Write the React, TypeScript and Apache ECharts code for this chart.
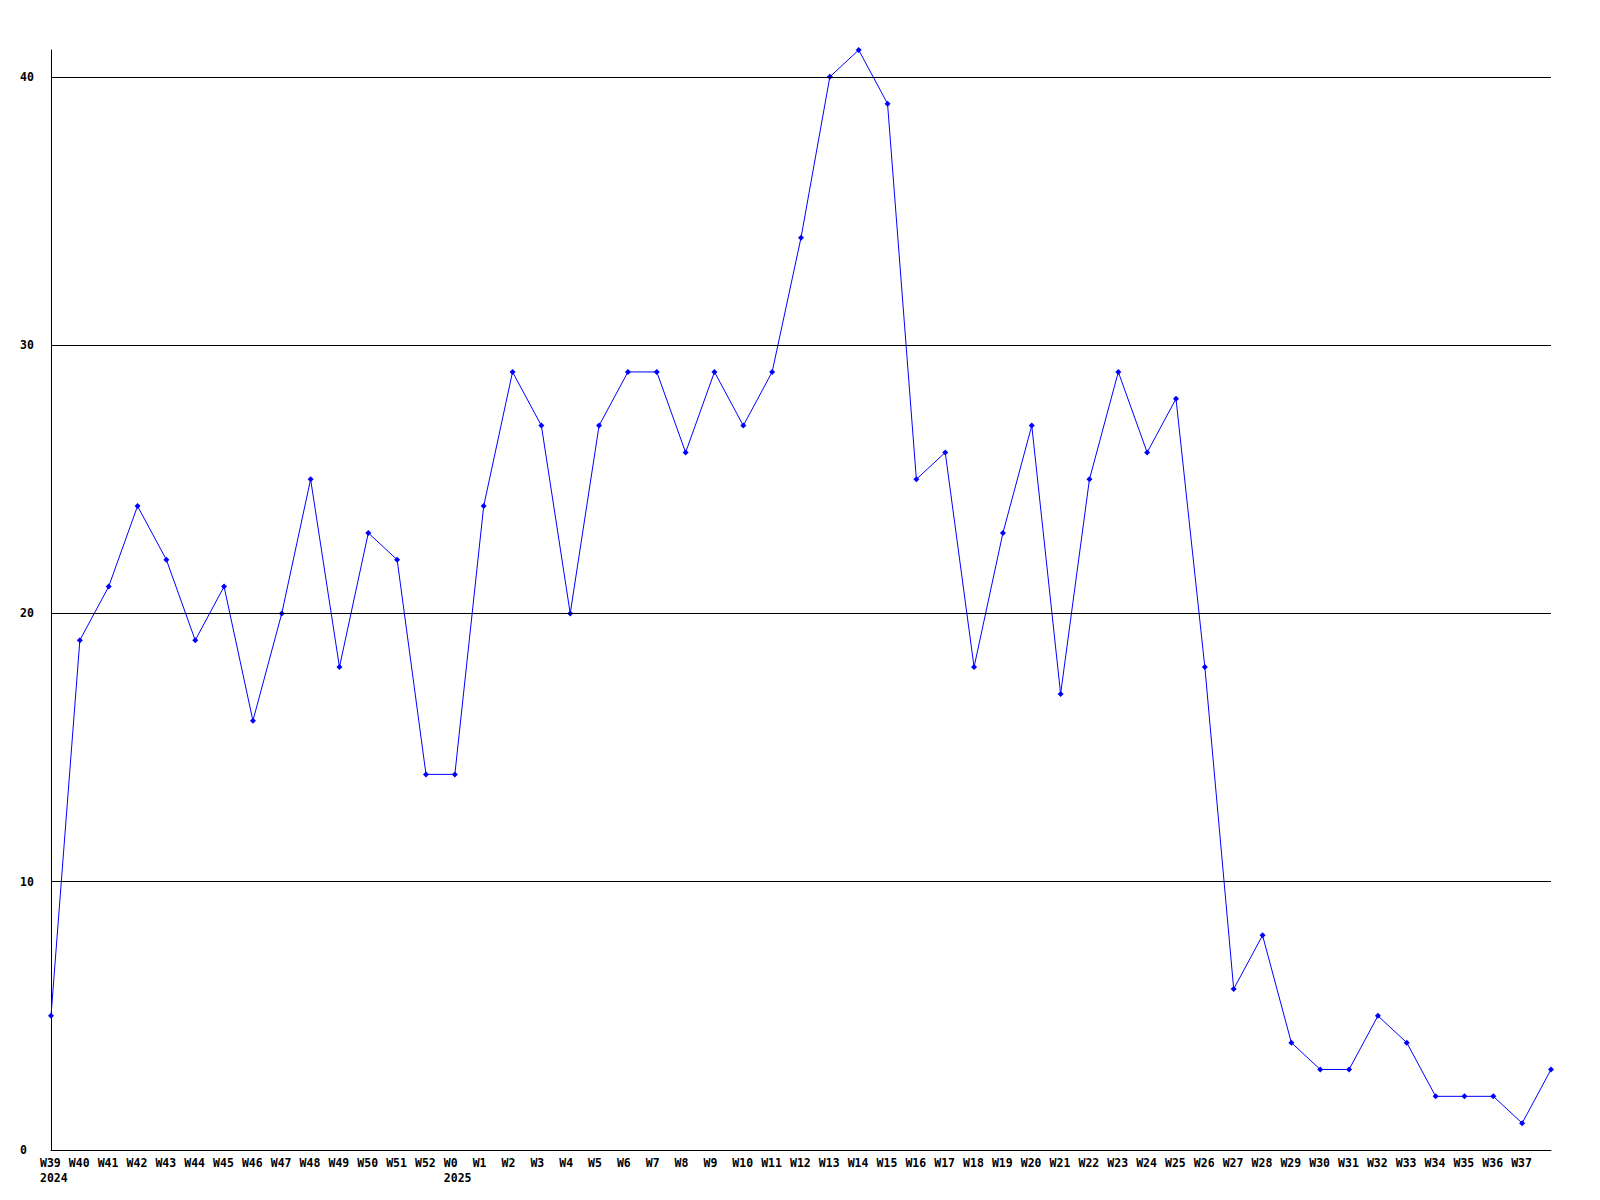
import React, { useEffect, useRef } from "react";
import * as echarts from "echarts";

const weeks = [
  "W39", "W40", "W41", "W42", "W43", "W44", "W45", "W46", "W47", "W48", "W49", "W50", "W51", "W52",
  "W0", "W1", "W2", "W3", "W4", "W5", "W6", "W7", "W8", "W9", "W10", "W11", "W12", "W13", "W14",
  "W15", "W16", "W17", "W18", "W19", "W20", "W21", "W22", "W23", "W24", "W25", "W26", "W27", "W28",
  "W29", "W30", "W31", "W32", "W33", "W34", "W35", "W36", "W37", "W38",
];
const hiddenLabels = ["W38"];
const yearLabels: Record<string, string> = { W39: "2024", W0: "2025" };

const values = [
  5, 19, 21, 24, 22, 19, 21, 16, 20, 25, 18, 23, 22, 14,
  14, 24, 29, 27, 20, 27, 29, 29, 26, 29, 27, 29, 34, 40, 41,
  39, 25, 26, 18, 23, 27, 17, 25, 29, 26, 28, 18, 6, 8,
  4, 3, 3, 5, 4, 2, 2, 2, 1, 3,
];
const gridValues = [10, 20, 30, 40];
const yMax = 41;

const FONT = "'DejaVu Sans Mono', monospace";

export default function App() {
  const ref = useRef<HTMLDivElement>(null);
  useEffect(() => {
    document.body.style.margin = "0";
    if (!ref.current) return;
    const chart = echarts.init(ref.current, undefined, { renderer: "svg" });
    chart.setOption({
      animation: false,
      backgroundColor: "#ffffff",
      grid: { left: 51, right: 49, top: 50, bottom: 50, containLabel: false },
      xAxis: {
        type: "category",
        data: weeks,
        boundaryGap: false,
        axisLine: { show: true, lineStyle: { color: "#000", width: 1 } },
        axisTick: { show: false },
        splitLine: { show: false },
        axisLabel: {
          interval: 0,
          align: "left",
          padding: [0, 0, 0, -11],
          margin: 5,
          color: "#000",
          fontFamily: FONT,
          fontWeight: "bold",
          fontSize: 11.5,
          lineHeight: 15,
          formatter: (v: string) => {
            if (hiddenLabels.includes(v)) return "";
            return yearLabels[v] ? v + "\n" + yearLabels[v] : v;
          },
        },
      },
      yAxis: {
        type: "value",
        min: 0,
        max: yMax,
        interval: 10,
        axisLine: { show: true, lineStyle: { color: "#000", width: 1 } },
        axisTick: { show: false },
        splitLine: { show: false },
        axisLabel: {
          align: "left",
          margin: 31,
          color: "#000",
          fontFamily: FONT,
          fontWeight: "bold",
          fontSize: 11.5,
          formatter: (v: number) => (v % 10 === 0 ? String(v) : ""),
        },
      },
      series: [
        {
          type: "line",
          data: values,
          symbol: "diamond",
          symbolSize: 6,
          showSymbol: true,
          lineStyle: { color: "#0000ff", width: 1 },
          itemStyle: { color: "#0000ff" },
          markLine: {
            silent: true,
            symbol: "none",
            label: { show: false },
            lineStyle: { color: "#000", width: 1, type: "solid" },
            data: gridValues.map((g) => ({ yAxis: g })),
          },
          z: 3,
        },
      ],
    });
    return () => chart.dispose();
  }, []);
  return <div ref={ref} style={{ width: 1600, height: 1200 }} />;
}
